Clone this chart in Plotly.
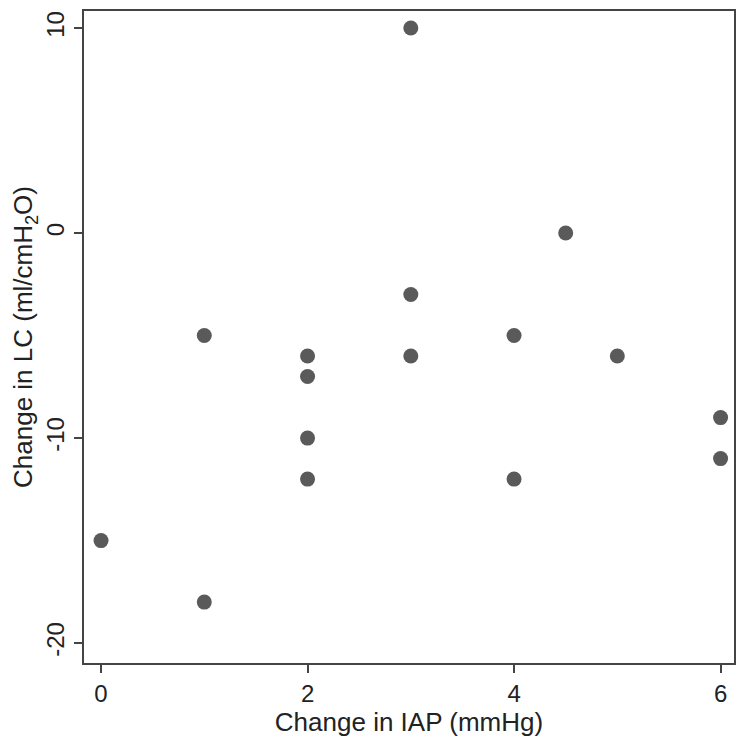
import plotly.graph_objects as go

iap_change = [0, 1, 1, 2, 2, 2, 2, 3, 3, 3, 4, 4, 4.5, 5, 6, 6]
lc_change = [-15, -5, -18, -6, -7, -10, -12, 10, -3, -6, -5, -12, 0, -6, -9, -11]
x_ticks = [0, 2, 4, 6]
y_ticks = [-20, -10, 0, 10]

fig = go.Figure()
fig.add_trace(go.Scatter(
    x=iap_change, y=lc_change, mode="markers",
    marker=dict(size=15, color="#5a5a5a", line=dict(width=0)),
    showlegend=False,
))

fam = "Liberation Sans, Arial, sans-serif"
tickf = dict(family=fam, size=24, color="#222")
titf = dict(family=fam, size=26, color="#222")
fig.update_layout(
    width=744, height=733,
    margin=dict(l=76, r=18, t=3, b=78),
    plot_bgcolor="white", paper_bgcolor="white",
    font=dict(family=fam, size=24, color="#222"),
    xaxis=dict(
        range=[-0.165, 6.13], tickvals=x_ticks, ticktext=[str(v) for v in x_ticks],
        tickfont=tickf, automargin=False,
        showgrid=False, zeroline=False,
        showline=True, linecolor="#444", linewidth=2, mirror=True,
        ticks="outside", ticklen=8, tickwidth=1.5, tickcolor="#444",
        title=dict(text="Change in IAP (mmHg)", standoff=0, font=titf),
    ),
    yaxis=dict(
        range=[-20.97, 10.83], tickvals=y_ticks, ticktext=[str(v) for v in y_ticks],
        tickangle=-90, tickfont=tickf, automargin=False,
        showgrid=False, zeroline=False,
        showline=True, linecolor="#444", linewidth=2, mirror=True,
        ticks="outside", ticklen=8, tickwidth=1.5, tickcolor="#444",
        title=dict(text="Change in LC (ml/cmH<sub>2</sub>O)", standoff=2, font=titf),
    ),
)
fig.write_html("out.html")
